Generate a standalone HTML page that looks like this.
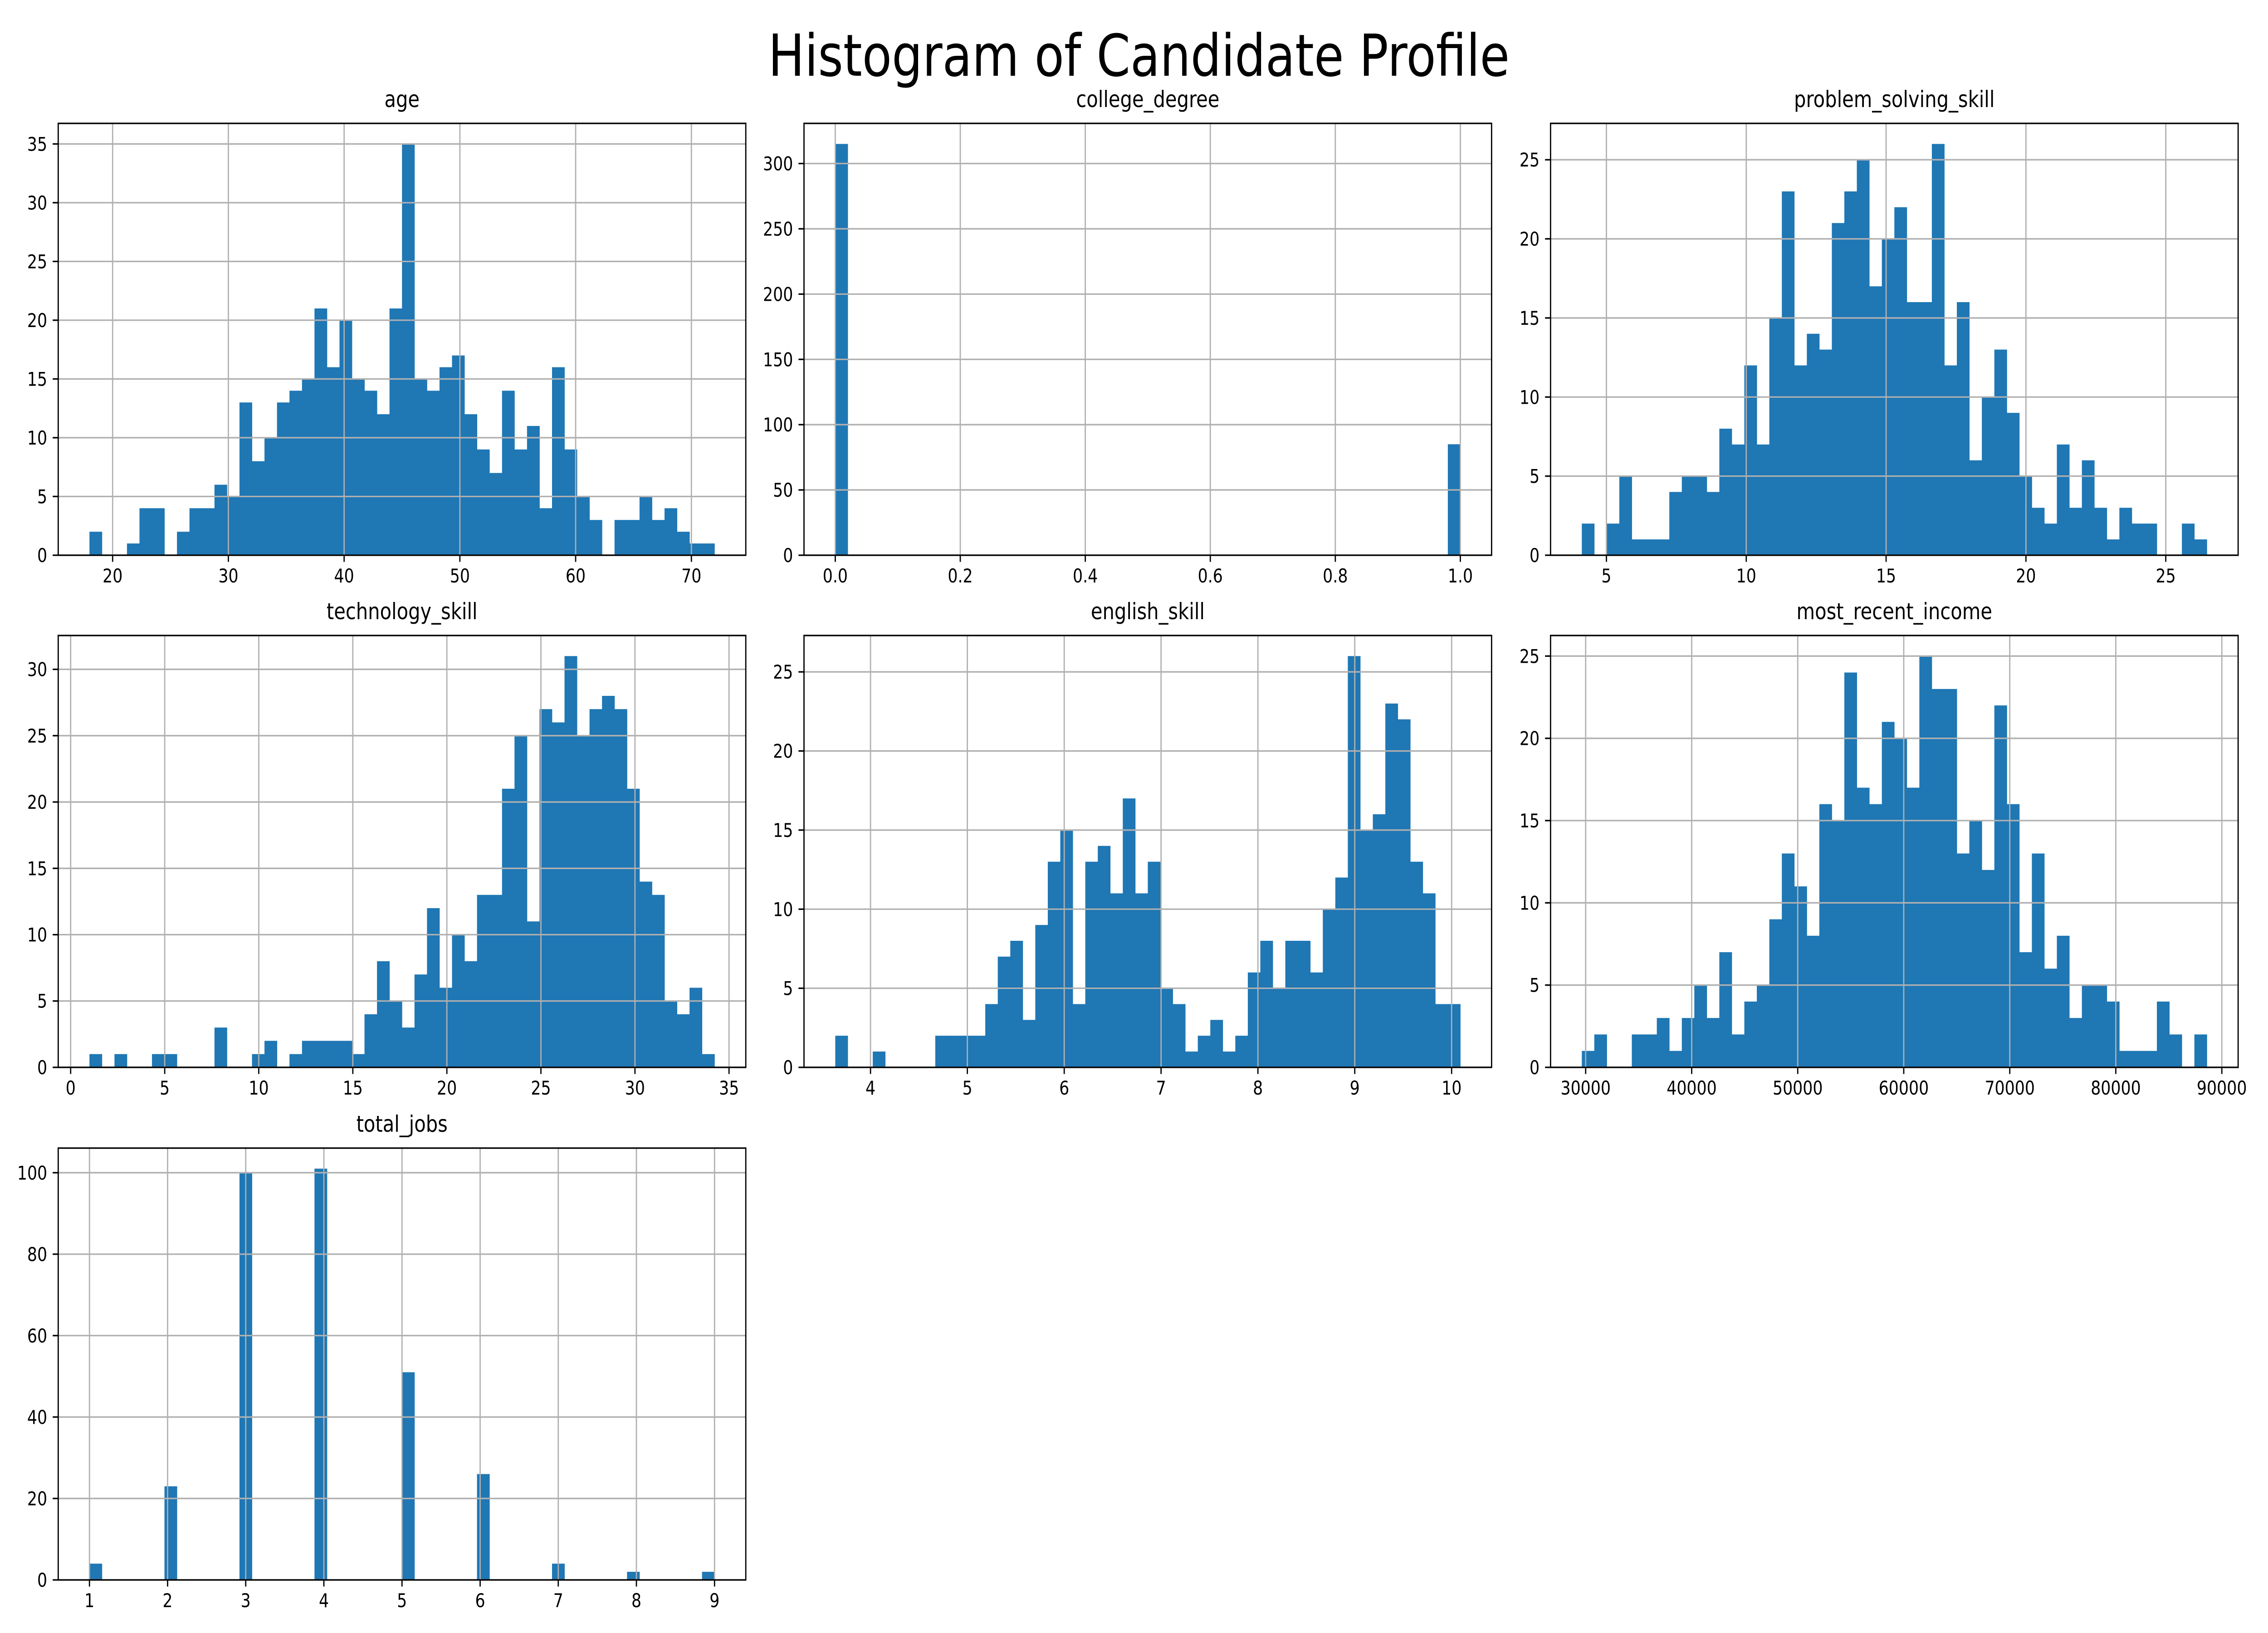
<!DOCTYPE html>
<html><head><meta charset="utf-8"><style>
html,body{margin:0;padding:0;background:#fff;overflow:hidden;width:100vw;height:100vh;}
svg{display:block;width:100vw;height:100vh;font-family:"DejaVu Sans","Liberation Sans",sans-serif;}
</style></head><body>
<svg id="fig" viewBox="0 0 6000 3600" preserveAspectRatio="none" xmlns="http://www.w3.org/2000/svg">
<rect x="0" y="0" width="6000" height="3600" fill="#fff"/>
<text x="3013" y="167" font-size="128" text-anchor="middle" fill="#000">Histogram of Candidate Profile</text>
</svg>
<script>
const ageCounts=[2,0,0,1,4,4,0,2,4,4,6,5,13,8,10,13,14,15,21,16,20,15,14,12,21,35,15,14,16,17,12,9,7,14,9,11,4,16,9,5,3,0,3,3,5,3,4,2,1,1];
const collegeCounts=[315,0,0,0,0,0,0,0,0,0,0,0,0,0,0,0,0,0,0,0,0,0,0,0,0,0,0,0,0,0,0,0,0,0,0,0,0,0,0,0,0,0,0,0,0,0,0,0,0,85];
const problemCounts=[2,0,2,5,1,1,1,4,5,5,4,8,7,12,7,15,23,12,14,13,21,23,25,17,20,22,16,16,26,12,16,6,10,13,9,5,3,2,7,3,6,3,1,3,2,2,0,0,2,1];
const techCounts=[1,0,1,0,0,1,1,0,0,0,3,0,0,1,2,0,1,2,2,2,2,1,4,8,5,3,7,12,6,10,8,13,13,21,25,11,27,26,31,25,27,28,27,21,14,13,5,4,6,1];
const englishCounts=[2,0,0,1,0,0,0,0,2,2,2,2,4,7,8,3,9,13,15,4,13,14,11,17,11,13,5,4,1,2,3,1,2,6,8,5,8,8,6,10,12,26,15,16,23,22,13,11,4,4];
const incomeCounts=[1,2,0,0,2,2,3,1,3,5,3,7,2,4,5,9,13,11,8,16,15,24,17,16,21,20,17,25,23,23,13,15,12,22,16,7,13,6,8,3,5,5,4,1,1,1,4,2,0,2];
const jobsCounts=[4,0,0,0,0,0,23,0,0,0,0,0,100,0,0,0,0,0,101,0,0,0,0,0,0,51,0,0,0,0,0,26,0,0,0,0,0,4,0,0,0,0,0,2,0,0,0,0,0,2];

const panelTitles=["age","college_degree","problem_solving_skill","technology_skill","english_skill","most_recent_income","total_jobs"];
const dataMin=[18,0,4.12,1.0,3.636,29636,1];
const dataMax=[72,1,26.47,34.23,10.09,88591,9];
const xTickLabels=[["20","30","40","50","60","70"],["0.0","0.2","0.4","0.6","0.8","1.0"],["5","10","15","20","25"],["0","5","10","15","20","25","30","35"],["4","5","6","7","8","9","10"],["30000","40000","50000","60000","70000","80000","90000"],["1","2","3","4","5","6","7","8","9"]];
const yTickLabels=[["0","5","10","15","20","25","30","35"],["0","50","100","150","200","250","300"],["0","5","10","15","20","25"],["0","5","10","15","20","25","30"],["0","5","10","15","20","25"],["0","5","10","15","20","25"],["0","20","40","60","80","100"]];
const allCounts=[ageCounts,collegeCounts,problemCounts,techCounts,englishCounts,incomeCounts,jobsCounts];

const NS="http://www.w3.org/2000/svg";
const svg=document.getElementById('fig');
const colL=[154,2127,4102], W=1819;
const rowT=[272,1401,2531], H=952;
function mk(tag,attrs,parent){const e=document.createElementNS(NS,tag);for(const k in attrs)e.setAttribute(k,attrs[k]);(parent||svg).appendChild(e);return e;}

allCounts.forEach((counts,p)=>{
  const L=colL[p%3], T=rowT[Math.floor(p/3)], R=L+W, B=T+H;
  const g=mk('g',{});
  
  
  const mn=dataMin[p], mx=dataMax[p], span=mx-mn;
  const x0=mn-0.05*span, x1=mx+0.05*span;
  const ymax=Math.max(...counts)*1.05;
  const sx=v=>L+(v-x0)/(x1-x0)*W;
  const sy=v=>B-v/ymax*H;
  const nb=counts.length, bw=span/nb;
  counts.forEach((c,i)=>{
    if(c<=0)return;
    const xa=sx(mn+i*bw), xb=sx(mn+(i+1)*bw);
    const r=mk('rect',{x:xa,y:sy(c),width:xb-xa+0.5,height:B-sy(c),fill:'#1f77b4'},g);
    
    
  });
  xTickLabels[p].forEach(t=>{
    const x=sx(parseFloat(t));
    mk('line',{x1:x,y1:T,x2:x,y2:B,stroke:'#b0b0b0','stroke-width':3.3},g);
    mk('line',{x1:x,y1:B,x2:x,y2:B+14.6,stroke:'#000','stroke-width':3.3},g);
    const tx=mk('text',{x:x,y:B+60,'font-size':41.7,'text-anchor':'middle',fill:'#000'},g);
    
    
    tx.textContent=t;
  });
  yTickLabels[p].forEach(t=>{
    const y=sy(parseFloat(t));
    mk('line',{x1:L,y1:y,x2:R,y2:y,stroke:'#b0b0b0','stroke-width':3.3},g);
    mk('line',{x1:L-14.6,y1:y,x2:L,y2:y,stroke:'#000','stroke-width':3.3},g);
    const ty=mk('text',{x:L-29,y:y+15,'font-size':41.7,'text-anchor':'end',fill:'#000'},g);
    
    
    ty.textContent=t;
  });
  const fr=mk('rect',{x:L,y:T,width:W,height:H,fill:'none',stroke:'#000','stroke-width':3.3},g);
  
  
  const tt=mk('text',{x:L+W/2,y:T-36,'font-size':50,'text-anchor':'middle',fill:'#000'},g);
  
  
  tt.textContent=panelTitles[p];
});
</script>
</body></html>
